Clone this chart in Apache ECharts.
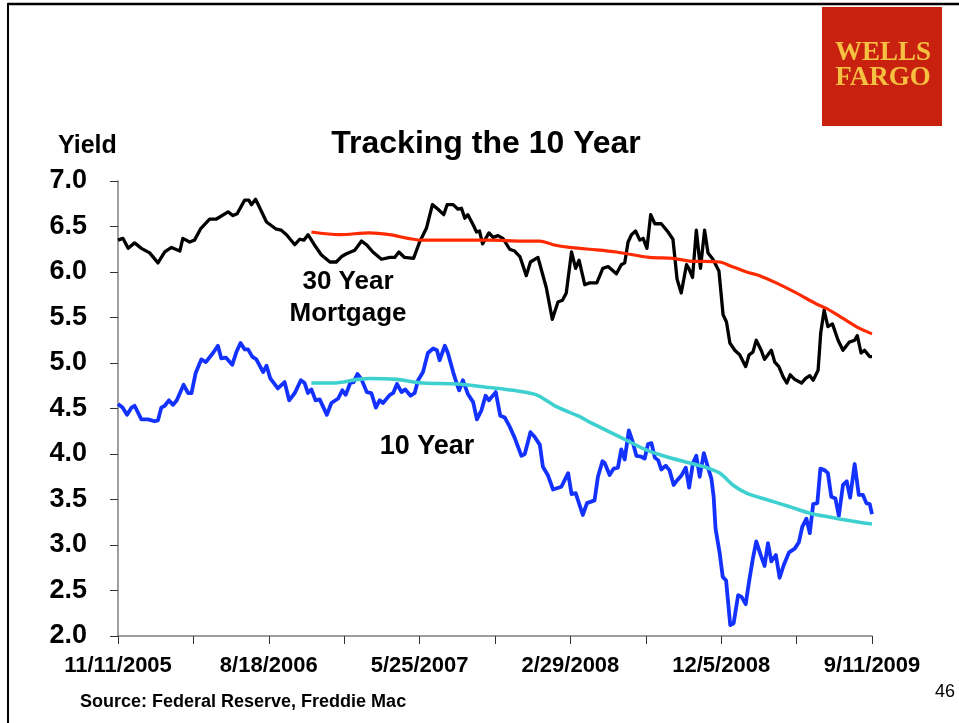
<!DOCTYPE html>
<html>
<head>
<meta charset="utf-8">
<script src="https://cdn.jsdelivr.net/npm/echarts@6/dist/echarts.min.js"></script>
<style>
  html, body { margin: 0; padding: 0; background: #fff; }
  #chart { width: 959px; height: 723px; }
</style>
</head>
<body>
<div id="chart"></div>
<script>
// Weeks counted from 11/11/2005; every 40th week carries a date label.
const tickLabels = ['11/11/2005', '8/18/2006', '5/25/2007', '2/29/2008', '12/5/2008', '9/11/2009'];

// 30 year fixed mortgage rate, [week, yield %]
const mortgage30 = [
  [0,6.35],[1.3,6.37],[2.7,6.26],[4.4,6.32],[6.2,6.26],[8.4,6.21],[10.6,6.10],[12.4,6.22],[14.2,6.27],
  [16.4,6.23],[17.2,6.37],[19,6.33],[20.3,6.35],[22,6.48],[24.3,6.58],[26,6.58],[29.2,6.66],[30.5,6.62],
  [31.6,6.64],[33.6,6.79],[34.7,6.79],[35.4,6.74],[36.5,6.80],[39.4,6.55],[42,6.47],[43.3,6.46],[44.7,6.41],
  [46.9,6.30],[48.2,6.36],[49.3,6.35],[50.4,6.41],[52.4,6.28],[53.9,6.19],[56.2,6.11],[57.9,6.11],[59.3,6.17],
  [60.6,6.20],[62.8,6.24],[64.6,6.34],[65.9,6.30],[67.6,6.22],[69.9,6.14],[72.1,6.16],[73.4,6.16],[74.5,6.22],
  [76,6.16],[78.4,6.15],[80,6.33],[81.8,6.48],[83.4,6.74],[84.9,6.69],[86.4,6.63],[87.3,6.74],[88.9,6.74],
  [90.2,6.69],[91.1,6.70],[92,6.59],[92.8,6.63],[94.2,6.52],[95.1,6.44],[95.9,6.45],[96.7,6.31],[98.4,6.43],
  [99.5,6.38],[100.8,6.40],[102.1,6.37],[103.9,6.25],[105.2,6.23],[106.6,6.17],[108.3,5.96],[109.4,6.11],
  [111.4,6.16],[113.6,5.83],[115.2,5.48],[116.7,5.67],[117.9,5.69],[118.9,5.77],[120.3,6.22],[121.4,6.04],
  [122.3,6.13],[123.8,5.86],[125.1,5.88],[127,5.88],[128.6,6.04],[130,6.06],[132.2,5.98],[133.5,6.08],
  [134.4,6.10],[135.3,6.33],[136.2,6.41],[137.3,6.45],[138.4,6.35],[139.3,6.37],[140.3,6.26],[141.3,6.63],
  [142.4,6.53],[144.1,6.53],[145.9,6.44],[147.2,6.36],[148.3,5.92],[149.4,5.77],[150.8,6.08],[151.4,6.04],
  [152.4,5.94],[153.4,6.46],[154.5,6.04],[155.6,6.46],[156.5,6.21],[157.8,6.14],[159.4,6.01],[160.5,5.53],
  [161.4,5.45],[162.3,5.22],[163.6,5.14],[164.9,5.09],[166.5,4.96],[167.4,5.09],[168.4,5.12],[169.3,5.25],
  [170.6,5.14],[171.5,5.04],[173.3,5.14],[174.2,5.01],[175.3,4.96],[176.4,4.85],[177.4,4.78],[178.3,4.87],
  [179.5,4.82],[181.3,4.78],[182.4,4.83],[183.5,4.86],[184.4,4.81],[185.7,4.92],[186.4,5.33],[187.3,5.58],
  [188.3,5.40],[189.5,5.43],[191,5.25],[192.3,5.14],[194,5.23],[195.4,5.25],[196.1,5.30],[197.1,5.11],
  [198,5.14],[199.4,5.07],[200,5.07]
];

// One-year moving average of the mortgage rate
const mortgageAvg = [
  [51.3,6.44],[58.8,6.41],[66.7,6.43],[72,6.41],[80.5,6.35],[89.8,6.35],[98.6,6.35],[107.4,6.34],
  [111.9,6.34],[115.4,6.30],[119.8,6.27],[125.1,6.25],[132.2,6.22],[141,6.16],[147.2,6.15],[151.6,6.12],
  [159.6,6.11],[162.3,6.07],[166.7,6.00],[170.2,5.96],[174.6,5.88],[179.9,5.77],[185.2,5.65],[187.9,5.60],
  [192.3,5.49],[196.7,5.38],[200,5.32]
];

// 10 year Treasury yield, [week, yield %]
const tenYear = [
  [0,4.55],[1.2,4.51],[2.4,4.43],[3.6,4.51],[4.4,4.53],[6.2,4.38],[8,4.38],[9.7,4.36],[10.6,4.37],
  [11.5,4.51],[12.4,4.53],[13.5,4.59],[14.6,4.54],[15.6,4.59],[17.4,4.76],[18.6,4.67],[19.5,4.67],
  [20.6,4.89],[22.1,5.04],[23.3,5.01],[25.2,5.11],[26.5,5.19],[27.4,5.05],[28.6,5.06],[30.3,4.98],
  [31.4,5.12],[32.5,5.22],[33.6,5.15],[34.5,5.15],[35.6,5.07],[36.7,5.04],[38.5,4.90],[39.4,4.97],
  [40.4,4.83],[42.4,4.72],[44.2,4.79],[45.4,4.59],[46.9,4.67],[48.5,4.81],[49.5,4.78],[50.4,4.67],
  [51.3,4.71],[52.4,4.59],[53.5,4.60],[55.4,4.43],[56.6,4.56],[58.4,4.61],[59.5,4.70],[60.4,4.65],
  [61.6,4.78],[62.5,4.79],[63.5,4.88],[64.6,4.82],[66,4.68],[67.2,4.67],[68.4,4.51],[69.4,4.59],
  [70.3,4.56],[72.1,4.65],[73,4.67],[74,4.77],[75.2,4.68],[76.2,4.71],[77.6,4.64],[78.7,4.67],
  [79.6,4.81],[80.9,4.90],[82.2,5.11],[83.6,5.16],[84.6,5.14],[85.3,5.03],[86.7,5.19],[87.5,5.11],
  [88.9,4.90],[89.8,4.78],[90.5,4.70],[91.5,4.81],[92.8,4.66],[94.2,4.57],[95.2,4.38],[96.4,4.48],
  [97.5,4.64],[98.4,4.59],[100.2,4.68],[101.4,4.42],[102.6,4.40],[103.9,4.30],[105.2,4.18],[107,3.98],
  [107.9,4.00],[109.4,4.24],[110.5,4.19],[111.9,4.10],[112.7,3.86],[114,3.77],[115.4,3.61],[117.6,3.64],
  [119.4,3.79],[120.3,3.56],[121.4,3.57],[123.3,3.33],[124.4,3.46],[126.4,3.49],[127.3,3.75],[128.5,3.92],
  [129.1,3.90],[130.4,3.77],[131.5,3.84],[132.6,3.85],[133.5,4.05],[134.4,3.94],[135.5,4.26],[136.4,4.15],
  [137.5,3.98],[138.8,3.97],[139.7,3.95],[140.6,4.11],[141.5,4.12],[142.4,3.96],[143.3,3.93],[144.1,3.83],
  [145.3,3.87],[146.3,3.82],[147.4,3.66],[148.3,3.71],[149.4,3.76],[150.6,3.85],[151.5,3.63],[152.5,3.90],
  [153.4,3.98],[154.3,3.75],[155.4,4.01],[156.5,3.85],[157.4,3.73],[158,3.53],[158.5,3.18],[159.6,2.91],
  [160.4,2.65],[161.3,2.61],[162.4,2.12],[163.3,2.14],[164.5,2.45],[165.4,2.43],[166.5,2.35],[167.4,2.60],
  [168.4,2.85],[169.3,3.04],[170.4,2.90],[171.5,2.77],[172.4,3.02],[173.3,2.82],[174.5,2.89],[175.5,2.64],
  [176.6,2.78],[178,2.92],[179.5,2.96],[180.6,3.03],[181.5,3.20],[182.6,3.29],[183.5,3.13],[184.4,3.45],
  [185.5,3.46],[186.3,3.84],[187.5,3.82],[188.3,3.79],[189.2,3.53],[190.3,3.51],[191.2,3.32],[192.3,3.66],
  [193.3,3.70],[194.2,3.52],[195.4,3.89],[196.5,3.55],[197.6,3.55],[198.5,3.46],[199.4,3.45],[200,3.34]
];

// One-year moving average of the 10 year yield
const tenYearAvg = [
  [51.3,4.78],[57,4.78],[63.7,4.82],[66.8,4.83],[73.8,4.82],[80.9,4.78],[89.8,4.77],[98.6,4.73],
  [104.8,4.70],[111,4.65],[116.3,4.52],[122.5,4.41],[125.1,4.35],[128.6,4.28],[134,4.17],[139.3,4.06],
  [144.6,3.98],[151.6,3.90],[156.1,3.85],[159.6,3.79],[163.1,3.66],[166.7,3.57],[172,3.50],[178.2,3.42],
  [183.5,3.35],[189.7,3.30],[195,3.26],[200,3.23]
];

const FONT = '"Liberation Sans", Arial, Helvetica, sans-serif';
const SERIF = '"Liberation Serif", "Times New Roman", serif';
const chart = echarts.init(document.getElementById('chart'), null, { renderer: 'canvas' });

function label(text, x, y, size, opts) {
  return {
    type: 'text', x: x, y: y, z: 10,
    style: Object.assign({
      text: text, fill: '#000', fontFamily: FONT, fontWeight: 'bold', fontSize: size,
      align: 'center', verticalAlign: 'middle'
    }, opts || {})
  };
}

chart.setOption({
  backgroundColor: '#ffffff',
  animation: false,
  grid: { left: 118, right: 87, top: 181, bottom: 87, containLabel: false },
  xAxis: {
    type: 'value', min: 0, max: 200, interval: 20,
    splitLine: { show: false },
    axisLine: { show: true, lineStyle: { color: '#7f7f7f', width: 1.5 } },
    axisTick: { show: true, length: 8, lineStyle: { color: '#333', width: 1 } },
    axisLabel: {
      margin: 19, color: '#000', fontFamily: FONT, fontWeight: 'bold', fontSize: 22,
      showMinLabel: true, showMaxLabel: true,
      formatter: function (v) { return v % 40 === 0 ? tickLabels[v / 40] : ''; }
    }
  },
  yAxis: {
    type: 'value', min: 2, max: 7, interval: 0.5,
    splitLine: { show: false },
    axisLine: { show: true, lineStyle: { color: '#7f7f7f', width: 1.5 } },
    axisTick: { show: true, length: 8, lineStyle: { color: '#333', width: 1 } },
    axisLabel: {
      margin: 31, color: '#000', fontFamily: FONT, fontWeight: 'bold', fontSize: 27,
      formatter: function (v) { return v.toFixed(1); }
    }
  },
  series: [
    { name: '30 Year Mortgage', type: 'line', data: mortgage30, showSymbol: false,
      lineStyle: { color: '#000000', width: 3.3, join: 'round' }, z: 3 },
    { name: '30 Year Mortgage average', type: 'line', data: mortgageAvg, showSymbol: false, smooth: 0.3,
      lineStyle: { color: '#ff2a00', width: 3.2 }, z: 4 },
    { name: '10 Year', type: 'line', data: tenYear, showSymbol: false,
      lineStyle: { color: '#1432ff', width: 3.8, join: 'round' }, z: 3 },
    { name: '10 Year average', type: 'line', data: tenYearAvg, showSymbol: false, smooth: 0.3,
      lineStyle: { color: '#3dd0cf', width: 3.6 }, z: 4 }
  ],
  graphic: [
    // slide frame
    { type: 'line', shape: { x1: 8, y1: 4, x2: 959, y2: 4 }, style: { stroke: '#000', lineWidth: 2.5 } },
    { type: 'line', shape: { x1: 8, y1: 3, x2: 8, y2: 723 }, style: { stroke: '#000', lineWidth: 2 } },
    // logo block
    { type: 'rect', shape: { x: 822, y: 7, width: 120, height: 119 }, style: { fill: '#c8210f' } },
    label('WELLS', 883, 53, 27, { fill: '#f6c141', fontFamily: SERIF }),
    label('FARGO', 883, 78, 27, { fill: '#f6c141', fontFamily: SERIF }),
    // titles and annotations
    label('Tracking the 10 Year', 486, 144, 32),
    label('Yield', 58, 146, 25, { align: 'left' }),
    label('30 Year', 348, 282, 26),
    label('Mortgage', 348, 314, 26),
    label('10 Year', 427, 447, 27),
    label('Source: Federal Reserve, Freddie Mac', 80, 702, 18, { align: 'left' }),
    label('46', 955, 692, 18, { align: 'right', fontWeight: 'normal' })
  ]
});
</script>
</body>
</html>
